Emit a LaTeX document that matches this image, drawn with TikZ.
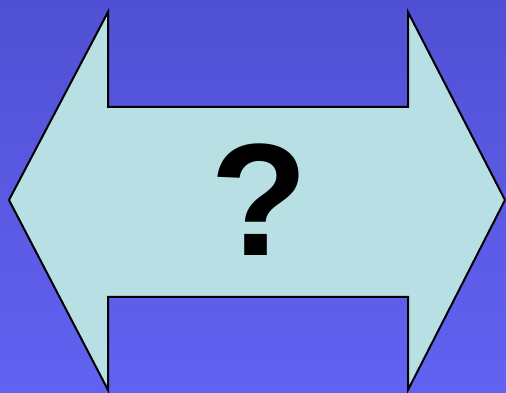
\documentclass[tikz,border=0pt]{standalone}
\usepackage{fontspec}
\setmainfont{Liberation Sans}
\definecolor{bgtop}{HTML}{5050D4}
\definecolor{bgbot}{HTML}{6262F2}
\definecolor{arrowfill}{HTML}{B8E0E4}
\begin{document}
\begin{tikzpicture}[x=1pt,y=1pt,
  arrowshape/.style={fill=arrowfill,draw=black,line width=2pt,line join=miter},
  qmark/.style={font=\fontsize{160}{160}\selectfont\bfseries,inner sep=0pt}]
\shade[top color=bgtop,bottom color=bgbot] (0,0) rectangle (506,393);
\useasboundingbox (0,0) rectangle (506,393);
\draw[arrowshape] (9,193) -- (108,381) -- (108,286) -- (408,286) -- (408,381)
  -- (505,193) -- (408,3) -- (408,96) -- (108,96) -- (108,3) -- cycle;
\node[qmark] (q) at (259,193) {?};
\end{tikzpicture}
\end{document}
